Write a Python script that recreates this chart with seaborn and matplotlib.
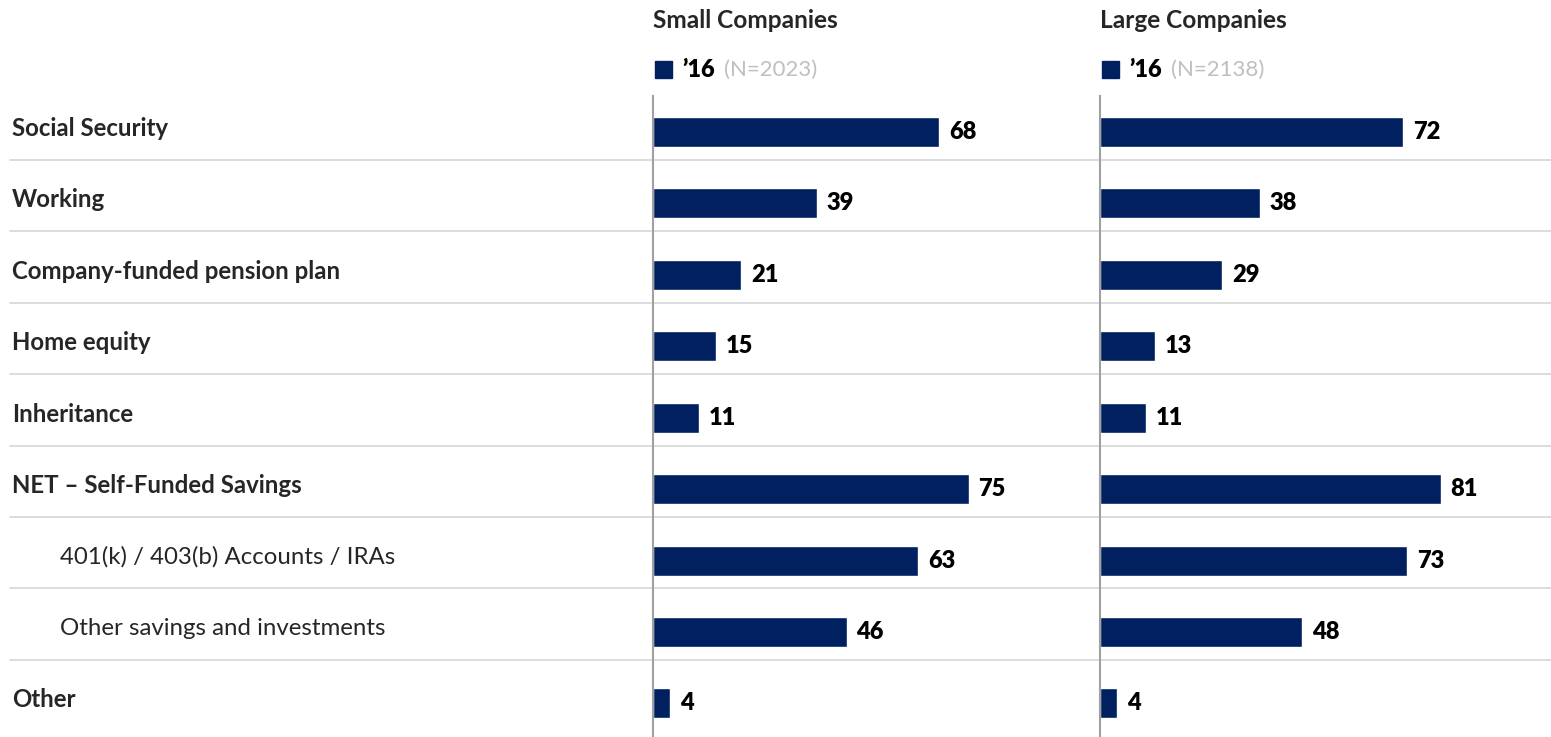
import pandas as pd
import matplotlib
matplotlib.use("Agg")
import matplotlib.pyplot as plt
import seaborn as sns
from matplotlib.patches import Rectangle

# dane
kategorie = ["Social Security", "Working", "Company-funded pension plan", "Home equity",
             "Inheritance", "NET \u2013 Self-Funded Savings", "401(k) / 403(b) Accounts / IRAs",
             "Other savings and investments", "Other"]
wciete = [False, False, False, False, False, False, True, True, False]  # podpozycje
male_firmy = [68, 39, 21, 15, 11, 75, 63, 46, 4]
duze_firmy = [72, 38, 29, 13, 11, 81, 73, 48, 4]
tytuly = ["Small Companies", "Large Companies"]
rok = "\u201916"
liczebnosc = ["(N=2023)", "(N=2138)"]

KOLOR = "#002060"
W, H = 1551, 737
FS = 17

sns.set_theme(style="white")
plt.rcParams['font.family'] = ['Lato', 'DejaVu Sans']

fig = plt.figure(figsize=(W / 100, H / 100), dpi=100)

def fx(px):
    return px / W

def fy(py):
    return 1 - py / H

y_gora, y_dol = 96, 737
YLIM = (8.47, -0.504)

# tlo z etykietami i liniami
tlo = fig.add_axes([0, fy(y_dol), 1, (y_dol - y_gora) / H])
tlo.set_xlim(0, W)
tlo.set_ylim(*YLIM)
tlo.axis("off")
for i in range(len(kategorie) - 1):
    tlo.plot([10, W], [i + 0.39, i + 0.39], color="#D9D9D9", lw=1.3)
for i, k in enumerate(kategorie):
    tlo.text(60 if wciete[i] else 12, i - 0.05, k, va="center", ha="left", fontsize=FS + 0.3,
             fontweight="normal" if wciete[i] else "bold", color="#262626")

panele = [(653, 1095, male_firmy), (1100, W, duze_firmy)]
for j, (x0, x1, wartosci) in enumerate(panele):
    ax = fig.add_axes([fx(x0), fy(y_dol), fx(x1 - x0), (y_dol - y_gora) / H])
    df = pd.DataFrame({"kat": kategorie, "val": wartosci})
    sns.barplot(data=df, x="val", y="kat", color=KOLOR, width=0.42, ax=ax, saturation=1)
    ax.set_xlim(0, (x1 - x0) / 4.21)
    ax.set_ylim(*YLIM)
    ax.patch.set_alpha(0)
    for s in ["top", "right", "bottom"]:
        ax.spines[s].set_visible(False)
    ax.spines["left"].set_color("#A0A0A0")
    ax.spines["left"].set_linewidth(1.5)
    ax.set_xticks([])
    ax.set_yticks([])
    ax.set_xlabel("")
    ax.set_ylabel("")
    for i, v in enumerate(wartosci):
        ax.annotate(str(v), (v, i), xytext=(7, 0), textcoords="offset points",
                    va="center", ha="left", fontsize=FS, fontweight="heavy", color="black")

    # naglowki
    fig.text(fx(x0), fy(21), tytuly[j], fontsize=FS + 0.6, fontweight="bold", color="#262626",
             va="center", ha="left")
    fig.patches.append(Rectangle((fx(x0 + 2), fy(78)), fx(17), 17 / H, transform=fig.transFigure,
                                 color=KOLOR, figure=fig))
    fig.text(fx(x0 + 29), fy(70), rok, fontsize=FS, fontweight="heavy", color="black",
             va="center", ha="left")
    fig.text(fx(x0 + 71), fy(70), liczebnosc[j], fontsize=FS - 1, color="#BFBFBF",
             va="center", ha="left")

fig.savefig("out.png", dpi=100)
